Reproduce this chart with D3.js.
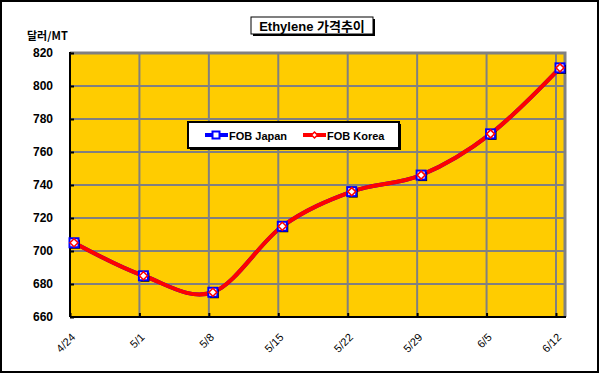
<!DOCTYPE html>
<html>
<head>
<meta charset="utf-8">
<script src="https://cdn.jsdelivr.net/npm/d3@7"></script>
<style>
  body { margin: 0; background: #fff; }
  svg { display: block; font-family: Arial, "Liberation Sans", sans-serif; }
</style>
</head>
<body>
<svg id="chart" width="600" height="374"></svg>
<script>
const dates = ['4/24', '5/1', '5/8', '5/15', '5/22', '5/29', '6/5', '6/12'];
const fobJapan = [705, 685, 675, 715, 736, 746, 771, 811];
const fobKorea = [705, 685, 675, 715, 736, 746, 771, 811];
const yTicks = [660, 680, 700, 720, 740, 760, 780, 800, 820];

const svg = d3.select('#chart');

// outer frame
svg.append('rect')
    .attr('x', 1).attr('y', 1).attr('width', 597).attr('height', 371)
    .attr('fill', '#fff').attr('stroke', '#000').attr('stroke-width', 2);

const plot = { left: 70, top: 53, right: 565, bottom: 317 };

const x = d3.scalePoint().domain(dates).range([70, 556]);
// markers sit a few px right of the category ticks, like the excel render
const xp = d3.scalePoint().domain(dates).range([74, 560]);
const y = d3.scaleLinear().domain([660, 820]).range([plot.bottom, plot.top]);

svg.append('rect')
    .attr('x', plot.left).attr('y', plot.top)
    .attr('width', plot.right - plot.left).attr('height', plot.bottom - plot.top)
    .attr('fill', '#FFCC00');

// gridlines
svg.append('g').selectAll('line').data(yTicks).enter().append('line')
    .attr('x1', plot.left).attr('x2', plot.right)
    .attr('y1', d => y(d)).attr('y2', d => y(d))
    .attr('stroke', '#808080').attr('stroke-width', 2);

svg.append('g').selectAll('line').data(dates.slice(1)).enter().append('line')
    .attr('x1', d => x(d)).attr('x2', d => x(d))
    .attr('y1', plot.top).attr('y2', plot.bottom)
    .attr('stroke', '#808080').attr('stroke-width', 2);

// plot border top/right
svg.append('path')
    .attr('d', `M${plot.left},${plot.top} H${plot.right} V${plot.bottom}`)
    .attr('fill', 'none').attr('stroke', '#808080').attr('stroke-width', 3);

// axes
const yAxis = svg.append('g').attr('transform', `translate(${plot.left},0)`)
    .call(d3.axisLeft(y).tickValues(yTicks).tickSize(-4).tickPadding(17));
const xAxis = svg.append('g').attr('transform', `translate(0,${plot.bottom})`)
    .call(d3.axisBottom(x).tickSize(-4).tickFormat(''));

[yAxis, xAxis].forEach(a => {
    a.select('.domain').attr('stroke', '#000').attr('stroke-width', 2);
    a.selectAll('.tick line').attr('stroke', '#000').attr('stroke-width', 2);
});
xAxis.select('.domain').attr('d', `M${plot.left},0H${plot.right + 1}`);
yAxis.select('.domain').attr('d', `M0,${plot.bottom}V${plot.top - 1}`);

yAxis.selectAll('.tick text')
    .attr('font-size', 12).attr('font-weight', 'bold').attr('fill', '#000')
    .attr('font-family', 'Arial, "Liberation Sans", sans-serif');

svg.append('g').selectAll('text').data(dates).enter().append('text')
    .attr('transform', d => `translate(${x(d) + 6},${plot.bottom + 21}) rotate(-45)`)
    .attr('text-anchor', 'end')
    .attr('font-size', 11)
    .attr('fill', '#000')
    .text(d => d);

svg.append('text')
    .attr('x', 27).attr('y', 40)
    .attr('font-size', 11).attr('font-weight', 'bold')
    .attr('font-family', '"Noto Sans CJK KR", Arial, sans-serif')
    .text('달러/MT');

// title box
svg.append('rect').attr('x', 253).attr('y', 19).attr('width', 122).attr('height', 17).attr('fill', '#000');
svg.append('rect').attr('x', 251).attr('y', 17).attr('width', 122).attr('height', 17)
    .attr('fill', '#fff').attr('stroke', '#000').attr('stroke-width', 1);
svg.append('text')
    .attr('x', 312).attr('y', 30.5)
    .attr('text-anchor', 'middle')
    .attr('font-size', 13).attr('font-weight', 'bold')
    .attr('font-family', 'Arial, "Noto Sans CJK KR", sans-serif')
    .text('Ethylene 가격추이');

// series
const line = d3.line()
    .x((d, i) => xp(dates[i]))
    .y(d => y(d))
    .curve(d3.curveCardinal.tension(0));

svg.append('path').datum(fobJapan)
    .attr('d', line).attr('fill', 'none').attr('stroke', '#0000FF').attr('stroke-width', 4);
svg.append('path').datum(fobKorea)
    .attr('d', line).attr('fill', 'none').attr('stroke', '#FF0000').attr('stroke-width', 4);

const jp = svg.append('g').selectAll('g').data(fobJapan).enter().append('g')
    .attr('transform', (d, i) => `translate(${xp(dates[i])},${y(d)})`);
jp.append('rect').attr('x', -3).attr('y', -3).attr('width', 9).attr('height', 9).attr('fill', '#000');
jp.append('rect').attr('x', -4.5).attr('y', -4.5).attr('width', 9).attr('height', 9)
    .attr('fill', '#fff').attr('stroke', '#0000FF').attr('stroke-width', 2);

const kr = svg.append('g').selectAll('path').data(fobKorea).enter().append('path')
    .attr('transform', (d, i) => `translate(${xp(dates[i])},${y(d)})`)
    .attr('d', 'M0,-4L4,0L0,4L-4,0Z')
    .attr('fill', '#fff').attr('stroke', '#FF0000').attr('stroke-width', 1.5);

// legend
const lg = svg.append('g');
lg.append('rect').attr('x', 190).attr('y', 124).attr('width', 211).attr('height', 26).attr('fill', '#000');
lg.append('rect').attr('x', 188).attr('y', 122).attr('width', 211).attr('height', 26)
    .attr('fill', '#fff').attr('stroke', '#000').attr('stroke-width', 2);

lg.append('line').attr('x1', 205).attr('x2', 228).attr('y1', 135).attr('y2', 135)
    .attr('stroke', '#0000FF').attr('stroke-width', 4);
lg.append('rect').attr('x', 212.5).attr('y', 131.5).attr('width', 7).attr('height', 7)
    .attr('fill', '#fff').attr('stroke', '#0000FF').attr('stroke-width', 2);
lg.append('text').attr('x', 229).attr('y', 139.5)
    .attr('font-size', 11).attr('font-weight', 'bold').text('FOB Japan');

lg.append('line').attr('x1', 303).attr('x2', 326).attr('y1', 135).attr('y2', 135)
    .attr('stroke', '#FF0000').attr('stroke-width', 4);
lg.append('path').attr('transform', 'translate(314.5,135)').attr('d', 'M0,-3L3,0L0,3L-3,0Z')
    .attr('fill', '#fff').attr('stroke', '#FF0000').attr('stroke-width', 1.5);
lg.append('text').attr('x', 327).attr('y', 139.5)
    .attr('font-size', 11).attr('font-weight', 'bold').text('FOB Korea');
</script>
</body>
</html>
